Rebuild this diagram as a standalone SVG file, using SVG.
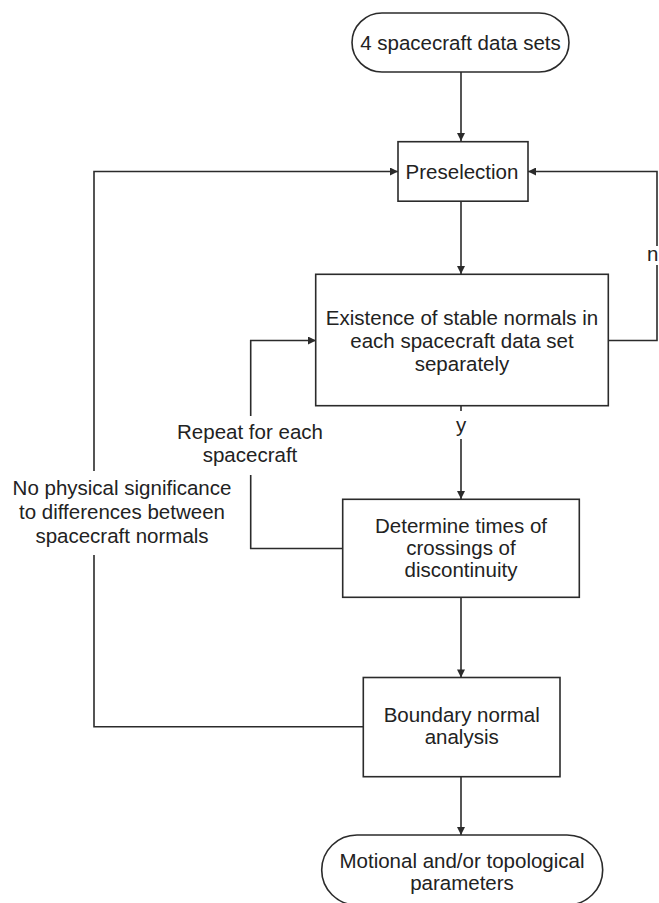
<svg xmlns="http://www.w3.org/2000/svg" width="659" height="903" viewBox="0 0 659 903">
<defs>
<style>
.box{fill:#fff;stroke:#2b2b2b;stroke-width:1.6}
.ln{fill:none;stroke:#2b2b2b;stroke-width:1.6}
text{font-family:"Liberation Sans",Arial,sans-serif;font-size:20.5px;fill:#222;text-anchor:middle}
</style>
<marker id="ah" viewBox="0 0 10 10" refX="10" refY="5" markerWidth="9" markerHeight="8" markerUnits="userSpaceOnUse" orient="auto">
<path d="M0,0 L10,5 L0,10 Z" fill="#2b2b2b"/>
</marker>
</defs>
<rect width="659" height="903" fill="#fff"/>
<g id="connectors">
<line class="ln" x1="461" y1="72" x2="461" y2="141" marker-end="url(#ah)"/>
<line class="ln" x1="461" y1="201" x2="461" y2="274" marker-end="url(#ah)"/>
<polyline class="ln" points="609,340.5 657,340.5 657,265"/>
<polyline class="ln" points="657,246 657,171.5 528,171.5" marker-end="url(#ah)"/>
<line class="ln" x1="461" y1="406" x2="461" y2="411"/>
<line class="ln" x1="461" y1="439" x2="461" y2="499" marker-end="url(#ah)"/>
<polyline class="ln" points="342.7,548.5 250.7,548.5 250.7,475"/>
<polyline class="ln" points="250.7,416 250.7,340.5 316,340.5" marker-end="url(#ah)"/>
<line class="ln" x1="461" y1="597" x2="461" y2="677.5" marker-end="url(#ah)"/>
<polyline class="ln" points="363.3,726.7 94,726.7 94,555"/>
<polyline class="ln" points="94,471 94,171.5 398,171.5" marker-end="url(#ah)"/>
<line class="ln" x1="461" y1="777" x2="461" y2="835" marker-end="url(#ah)"/>
<text x="461" y="432">y</text>
<text x="647" y="261" style="text-anchor:start">n</text>
<text x="250" y="439">Repeat for each</text>
<text x="250" y="462">spacecraft</text>
<text x="122" y="495">No physical significance</text>
<text x="122" y="519">to differences between</text>
<text x="122" y="543">spacecraft normals</text>
</g>
<g id="start">
<path class="box" d="M382,13 H539 A30,29.5 0 0 1 539,72 H382 A30,29.5 0 0 1 382,13 Z"/>
<text x="460.5" y="50">4 spacecraft data sets</text>
</g>
<g id="preselection">
<rect class="box" x="398" y="141.7" width="130" height="59.5"/>
<text x="462" y="179">Preselection</text>
</g>
<g id="existence">
<rect class="box" x="315.7" y="274.3" width="292.6" height="131.4"/>
<text x="462" y="325">Existence of stable normals in</text>
<text x="462" y="348">each spacecraft data set</text>
<text x="462" y="371">separately</text>
</g>
<g id="determine">
<rect class="box" x="342.7" y="499.3" width="236.6" height="98"/>
<text x="461" y="533">Determine times of</text>
<text x="461" y="555">crossings of</text>
<text x="461" y="577">discontinuity</text>
</g>
<g id="boundary">
<rect class="box" x="363.3" y="677.5" width="196.7" height="99.2"/>
<text x="461.7" y="722">Boundary normal</text>
<text x="461.7" y="744">analysis</text>
</g>
<g id="end">
<path class="box" d="M357,835 H567 A35.7,35 0 0 1 567,905 H357 A35.3,35 0 0 1 357,835 Z"/>
<text x="462" y="868">Motional and/or topological</text>
<text x="462" y="890">parameters</text>
</g>
</svg>
